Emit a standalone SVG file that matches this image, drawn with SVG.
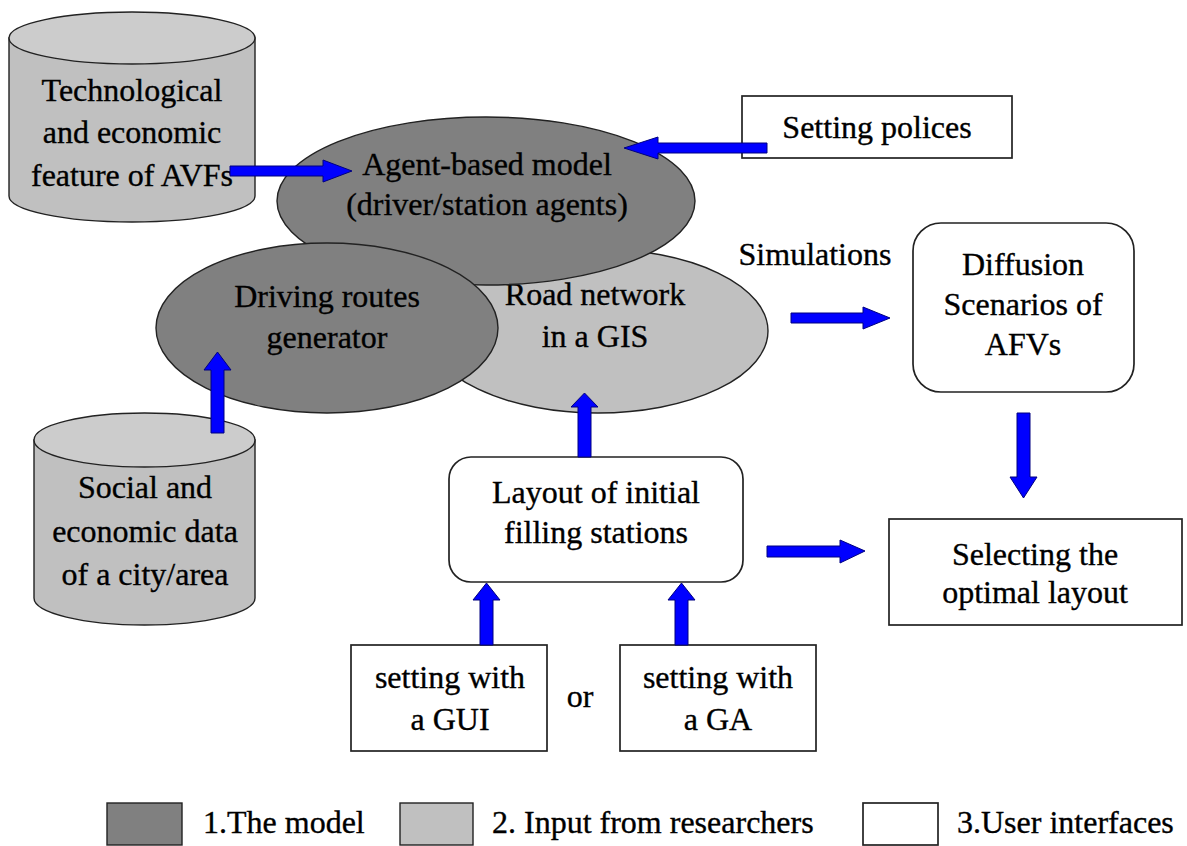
<svg xmlns="http://www.w3.org/2000/svg" width="1187" height="846" viewBox="0 0 1187 846">
<style>
text{font-family:'Liberation Serif','Times New Roman',serif;font-size:32px;fill:#000;stroke:#000;stroke-width:0.35;text-anchor:middle}
.lg{text-anchor:start}
.dark{fill:#808080;stroke:#222;stroke-width:1.4}
.light{fill:#c0c0c0;stroke:#222;stroke-width:1.4}
.lid{fill:#cccccc;stroke:#222;stroke-width:1.4}
.box{fill:#fff;stroke:#222;stroke-width:1.7}
.arr{fill:#0000ff;stroke:#000080;stroke-width:1}
</style>
<rect width="1187" height="846" fill="#fff"/>
<g id="tech-cylinder">
<path class="light" d="M9,38 V196 A123,26 0 0 0 255,196 V38 Z"/>
<ellipse class="lid" cx="132" cy="38" rx="123" ry="26"/>
<text x="132" y="101">Technological</text>
<text x="132" y="143">and economic</text>
<text x="132" y="186">feature of AVFs</text>
</g>
<g id="road-network">
<ellipse class="light" cx="598" cy="331" rx="170" ry="82"/>
<text x="595" y="305">Road network</text>
<text x="595" y="347">in a GIS</text>
</g>
<g id="agent-model">
<ellipse class="dark" cx="486" cy="201" rx="209" ry="84"/>
<text x="487" y="175">Agent-based model</text>
<text x="487" y="215">(driver/station agents)</text>
</g>
<g id="driving-routes">
<ellipse class="dark" cx="327" cy="328" rx="171" ry="85"/>
<text x="327" y="307">Driving routes</text>
<text x="327" y="348">generator</text>
</g>
<g id="social-cylinder">
<path class="light" d="M34,440 V598 A110.5,27 0 0 0 255,598 V440 Z"/>
<ellipse class="lid" cx="144.5" cy="440" rx="110.5" ry="27"/>
<text x="145" y="498">Social and</text>
<text x="145" y="542">economic data</text>
<text x="145" y="585">of a city/area</text>
</g>
<g id="setting-polices">
<rect class="box" x="742" y="96" width="270" height="62"/>
<text x="877" y="138">Setting polices</text>
</g>
<g id="simulations-label">
<text x="815" y="265">Simulations</text>
</g>
<g id="diffusion">
<rect class="box" x="913" y="223" width="221" height="169" rx="28" ry="28"/>
<text x="1023" y="275">Diffusion</text>
<text x="1023" y="315">Scenarios of</text>
<text x="1023" y="355">AFVs</text>
</g>
<g id="layout">
<rect class="box" x="449" y="457" width="294" height="125" rx="22" ry="22"/>
<text x="596" y="503">Layout of initial</text>
<text x="596" y="543">filling stations</text>
</g>
<g id="selecting">
<rect class="box" x="889" y="519" width="293" height="106"/>
<text x="1035" y="565">Selecting the</text>
<text x="1035" y="603">optimal layout</text>
</g>
<g id="gui">
<rect class="box" x="351" y="645" width="196" height="106"/>
<text x="450" y="688">setting with</text>
<text x="450" y="730">a GUI</text>
</g>
<g id="or-label">
<text x="580" y="707">or</text>
</g>
<g id="ga">
<rect class="box" x="620" y="645" width="196" height="106"/>
<text x="718" y="688">setting with</text>
<text x="718" y="730">a GA</text>
</g>
<g id="connectors">
<polygon class="arr" points="230,166 323,166 323,160 352,171 323,182 323,176 230,176"/>
<polygon class="arr" points="767,143 658,143 658,137 624,148 658,159 658,153 767,153"/>
<polygon class="arr" points="211,433 211,370 204,370 217.5,352 231,370 224,370 224,433"/>
<polygon class="arr" points="578,457 578,407 571,407 584.5,393 598,407 591,407 591,457"/>
<polygon class="arr" points="791,313 863,313 863,307 890,318 863,329 863,323 791,323"/>
<polygon class="arr" points="1017,413 1030,413 1030,477 1037,477 1023.5,498 1010,477 1017,477"/>
<polygon class="arr" points="767,546 840,546 840,540 865,551 840,563 840,557 767,557"/>
<polygon class="arr" points="480,645 480,600 473,600 486.5,583 500,600 493,600 493,645"/>
<polygon class="arr" points="675,645 675,600 668,600 681.5,583 695,600 688,600 688,645"/>
</g>
<g id="legend">
<rect class="dark" x="107" y="803" width="75" height="42"/>
<text class="lg" x="203" y="833">1.The model</text>
<rect class="light" x="400" y="803" width="73" height="42"/>
<text class="lg" x="492" y="833">2. Input from researchers</text>
<rect class="box" x="863" y="803" width="75" height="42"/>
<text class="lg" x="957" y="833">3.User interfaces</text>
</g>
</svg>
